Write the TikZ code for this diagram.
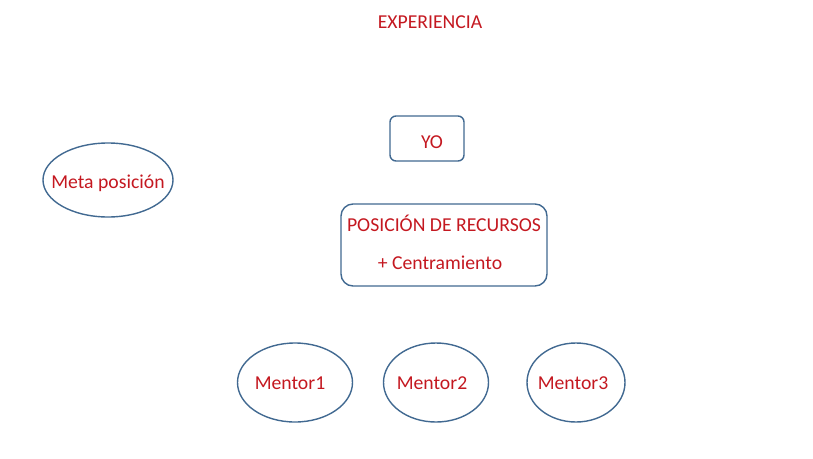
\documentclass[tikz,border=0pt]{standalone}
\usepackage{fontspec}
\setmainfont{Carlito}
\usetikzlibrary{shapes.geometric}
\definecolor{txtred}{RGB}{196,24,32}
\definecolor{edgeblue}{RGB}{65,105,145}
\tikzset{
  shapeline/.style={draw=edgeblue, line width=1.4pt},
  ell/.style={shapeline, ellipse, inner sep=0pt, outer sep=0pt},
  rbox/.style={shapeline, rectangle, inner sep=0pt, outer sep=0pt},
  lbl/.style={text=txtred, inner sep=0pt, font=\fontsize{19.7}{24}\selectfont}
}
\begin{document}
\begin{tikzpicture}[x=1pt, y=-1pt]
\useasboundingbox (0,0) rectangle (813,458);
% title
\node[lbl] (exp) at (430,22) {EXPERIENCIA};
% YO box
\node[rbox, rounded corners=6pt, minimum width=74pt, minimum height=45pt] (yo) at (427,138.5) {};
\node[lbl] (yotxt) at (432,142) {YO};
% Posicion box
\node[rbox, rounded corners=12pt, minimum width=206pt, minimum height=82pt] (pos) at (444,245) {};
\node[lbl] (pos1) at (444,223) {POSICIÓN DE RECURSOS};
\node[lbl] (pos2) at (440,263) {+ Centramiento};
% Meta posicion
\node[ell, minimum width=130pt, minimum height=74pt] (meta) at (108,180) {};
\node[lbl] (metatxt) at (108,183) {Meta posición};
% Mentors
\node[ell, minimum width=115pt, minimum height=79pt] (m1) at (295,382.5) {};
\node[lbl] (m1txt) at (290,383) {Mentor1};
\node[ell, minimum width=105pt, minimum height=79pt] (m2) at (436,382.5) {};
\node[lbl] (m2txt) at (432,383) {Mentor2};
\node[ell, minimum width=98pt, minimum height=79pt] (m3) at (576,382.5) {};
\node[lbl] (m3txt) at (573,383) {Mentor3};
\end{tikzpicture}
\end{document}
